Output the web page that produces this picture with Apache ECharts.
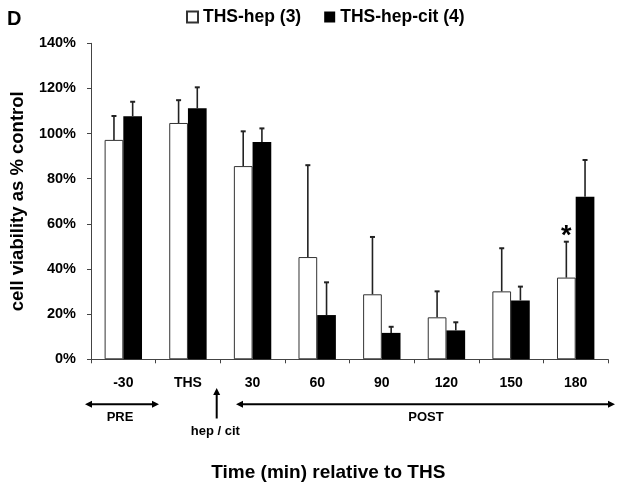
<!DOCTYPE html>
<html>
<head>
<meta charset="utf-8">
<script src="https://cdn.jsdelivr.net/npm/echarts@6/dist/echarts.min.js"></script>
<style>
html,body{margin:0;padding:0;background:#fff;}
#chart{width:621px;height:491px;}
</style>
</head>
<body>
<div id="chart"></div>
<script>
// ---- data ----
var categories = ['-30', 'THS', '30', '60', '90', '120', '150', '180'];
var hepMean = [97.2, 104.7, 85.6, 45.3, 28.8, 18.6, 30.1, 36.2];
var hepSD   = [10.6, 10.1, 15.4, 40.7, 25.4, 11.5, 19.1, 15.9];
var citMean = [107.7, 111.2, 96.3, 19.6, 11.7, 12.8, 26.1, 72.0];
var citSD   = [6.4, 9.3, 6.0, 14.5, 2.7, 3.6, 6.1, 16.3];
var hepSig  = ['', '', '', '', '', '', '', '*'];
var yTicks  = [0, 20, 40, 60, 80, 100, 120, 140];
var seriesNames = ['THS-hep (3)', 'THS-hep-cit (4)'];

var FONT = 'Liberation Sans, Arial, sans-serif';
var BAR_W = 18.7;

function errData(mean, sd, sig) {
  return mean.map(function (m, i) { return [i, m, m + sd[i], sig ? sig[i] : '']; });
}

function errRender(offsetSign) {
  return function (params, api) {
    var idx = api.value(0);
    var base = api.coord([idx, api.value(1)]);
    var top = api.coord([idx, api.value(2)]);
    var x = base[0] + offsetSign * BAR_W / 2;
    var children = [
      { type: 'line', shape: { x1: x, y1: base[1], x2: x, y2: top[1] },
        style: { stroke: '#222', lineWidth: 1.6 } },
      { type: 'line', shape: { x1: x - 2.5, y1: top[1], x2: x + 2.5, y2: top[1] },
        style: { stroke: '#222', lineWidth: 2 } }
    ];
    var s = api.value(3);
    if (s && s !== '') {
      children.push({ type: 'text', style: { text: s, x: x, y: top[1] + 8, align: 'center', verticalAlign: 'bottom',
        font: 'bold 27px ' + FONT, fill: '#000' } });
    }
    return { type: 'group', children: children };
  };
}

var chart = echarts.init(document.getElementById('chart'), null, { renderer: 'canvas' });
chart.setOption({
  animation: false,
  backgroundColor: '#fff',
  textStyle: { fontFamily: FONT },
  grid: { left: 91, right: 13, top: 43.3, bottom: 131.7, containLabel: false },
  legend: {
    data: seriesNames,
    left: 181, top: 3,
    itemWidth: 11, itemHeight: 11, itemGap: 23,
    icon: 'rect',
    textStyle: { fontFamily: FONT, fontWeight: 'bold', fontSize: 17.5, color: '#000' }
  },
  xAxis: {
    type: 'category',
    data: categories,
    axisLine: { lineStyle: { color: '#444', width: 1 } },
    axisTick: { show: true, alignWithLabel: false, length: 4, lineStyle: { color: '#444' } },
    axisLabel: { fontFamily: FONT, fontWeight: 'bold', fontSize: 14, color: '#000', margin: 17 },
    splitLine: { show: false }
  },
  yAxis: {
    type: 'value',
    min: yTicks[0], max: yTicks[yTicks.length - 1], interval: 20,
    name: 'cell viability as % control',
    nameLocation: 'middle', nameGap: 64,
    nameTextStyle: { fontFamily: FONT, fontWeight: 'bold', fontSize: 18.5, color: '#000' },
    axisLine: { show: true, lineStyle: { color: '#444', width: 1 } },
    axisTick: { show: true, length: 4, lineStyle: { color: '#444' } },
    axisLabel: { fontFamily: FONT, fontWeight: 'bold', fontSize: 14.5, color: '#000', margin: 15,
      formatter: '{value}%' },
    splitLine: { show: false }
  },
  series: [
    { name: seriesNames[0], type: 'bar', data: hepMean, barWidth: BAR_W, barGap: '0%',
      itemStyle: { color: '#fff', borderColor: '#333', borderWidth: 1 } },
    { name: seriesNames[1], type: 'bar', data: citMean, barWidth: BAR_W, barGap: '0%',
      itemStyle: { color: '#000', borderColor: '#000', borderWidth: 0 } },
    { type: 'custom', name: 'hepErr', data: errData(hepMean, hepSD, hepSig), renderItem: errRender(-1), z: 5,
      encode: { x: 0, y: [1, 2] } },
    { type: 'custom', name: 'citErr', data: errData(citMean, citSD, null), renderItem: errRender(1), z: 5,
      encode: { x: 0, y: [1, 2] } }
  ],
  graphic: [
    { type: 'text', left: 7, top: 9, style: { text: 'D', font: 'bold 20px ' + FONT, fill: '#000' } },
    // PRE arrow
    { type: 'line', shape: { x1: 89, y1: 404.3, x2: 155, y2: 404.3 }, style: { stroke: '#000', lineWidth: 2 } },
    { type: 'polygon', shape: { points: [[85, 404.3], [92, 400.8], [92, 407.8]] }, style: { fill: '#000' } },
    { type: 'polygon', shape: { points: [[159, 404.3], [152, 400.8], [152, 407.8]] }, style: { fill: '#000' } },
    { type: 'text', x: 120, y: 417.3, style: { text: 'PRE', font: 'bold 13px ' + FONT, fill: '#000', align: 'center', verticalAlign: 'middle' } },
    // hep/cit arrow
    { type: 'line', shape: { x1: 216.7, y1: 392, x2: 216.7, y2: 418.5 }, style: { stroke: '#000', lineWidth: 2 } },
    { type: 'polygon', shape: { points: [[216.7, 388], [213.2, 395], [220.2, 395]] }, style: { fill: '#000' } },
    { type: 'text', x: 215.3, y: 431.7, style: { text: 'hep / cit', font: 'bold 13px ' + FONT, fill: '#000', align: 'center', verticalAlign: 'middle' } },
    // POST arrow
    { type: 'line', shape: { x1: 240, y1: 404.3, x2: 611, y2: 404.3 }, style: { stroke: '#000', lineWidth: 2 } },
    { type: 'polygon', shape: { points: [[236, 404.3], [243, 400.8], [243, 407.8]] }, style: { fill: '#000' } },
    { type: 'polygon', shape: { points: [[615, 404.3], [608, 400.8], [608, 407.8]] }, style: { fill: '#000' } },
    { type: 'text', x: 426, y: 417.3, style: { text: 'POST', font: 'bold 13px ' + FONT, fill: '#000', align: 'center', verticalAlign: 'middle' } },
    // x title
    { type: 'text', x: 328.3, y: 473, style: { text: 'Time (min) relative to THS', font: 'bold 19px ' + FONT, fill: '#000', align: 'center', verticalAlign: 'middle' } }
  ]
});
</script>
</body>
</html>
